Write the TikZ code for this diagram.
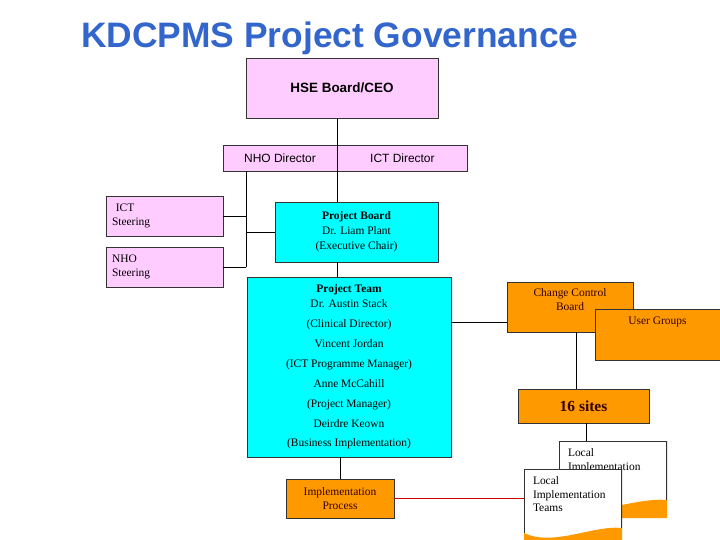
\documentclass[tikz,border=0pt]{standalone}
\usepackage{fontspec}
\setmainfont{Liberation Serif}
\setsansfont{Liberation Sans}
\usetikzlibrary{positioning,calc}
\definecolor{kdblue}{HTML}{3366CC}
\definecolor{kdpink}{HTML}{FFCCFF}
\definecolor{kdcyan}{HTML}{00FFFF}
\definecolor{kdorange}{HTML}{FF9900}
\definecolor{kdline}{HTML}{333333}
\definecolor{kdred}{HTML}{CC0000}
\definecolor{kdbrown}{HTML}{330000}

\begin{document}
\begin{tikzpicture}[x=1bp, y=-1bp,
    every node/.style={font=\fontsize{11.5}{14}\selectfont, inner sep=2bp},
    pinkbox/.style={draw=kdline, fill=kdpink, font=\sffamily\fontsize{12}{14}\selectfont},
    steerbox/.style={draw=kdline, fill=kdpink, align=left, text width=105bp, inner xsep=6bp, minimum height=40bp},
    cyanbox/.style={draw=kdline, fill=kdcyan, align=center},
    orangebox/.style={draw=kdline, fill=kdorange, text=kdbrown, align=center},
    toptext/.style={anchor=north, align=center, text=kdbrown, label distance=-5bp},
    doctext/.style={anchor=north west, align=left, inner xsep=9bp, inner ysep=8bp, font=\fontsize{11.5}{13.5}\selectfont},
    docsheet/.style={fill=white, inner sep=0pt, path picture={
        \fill[kdorange] ($(path picture bounding box.north west)+(0,64)$)
          .. controls ($(path picture bounding box.north west)!0.3!(path picture bounding box.north east)+(0,78)$)
          and ($(path picture bounding box.north west)!0.7!(path picture bounding box.north east)+(0,56)$)
          .. ($(path picture bounding box.north east)+(0,59)$)
          -- (path picture bounding box.south east) -- (path picture bounding box.south west) -- cycle;
        \draw[kdline, line width=1.6pt] ($(path picture bounding box.north west)+(0,64)$)
          -- (path picture bounding box.north west) -- (path picture bounding box.north east)
          -- ($(path picture bounding box.north east)+(0,59)$);
      }}]
  \useasboundingbox (0,0) rectangle (720,540);

  % title
  \node[anchor=base west, inner sep=0pt, text=kdblue, font=\sffamily\bfseries\fontsize{35.5}{40}\selectfont] (title) at (81,48) {KDCPMS Project Governance};

  % board level
  \node[pinkbox, font=\sffamily\bfseries\fontsize{13.5}{16}\selectfont, minimum width=192bp, minimum height=60bp] (hse) at (342,88) {HSE Board/CEO};
  \node[pinkbox, minimum width=114bp, minimum height=26bp] (nhodir) at (280,158) {NHO Director};
  \node[pinkbox, minimum width=130bp, minimum height=26bp, right=0pt of nhodir] (ictdir) {ICT Director};

  % steering groups
  \node[steerbox] (ictsteer) at (164.5,216) {\ ICT\\Steering};
  \node[steerbox] (nhosteer) at (164.5,267) {NHO\\Steering};

  % project
  \node[cyanbox, minimum width=163bp, minimum height=60bp, font=\fontsize{11.5}{15}\selectfont] (board) at (356.5,232)
    {\textbf{Project Board}\\Dr. Liam Plant\\(Executive Chair)};
  \node[cyanbox, minimum width=204bp, minimum height=180bp, font=\fontsize{11.5}{20}\selectfont] (team) at (349,367)
    {\textbf{Project Team}\\[-5bp]Dr. Austin Stack\\(Clinical Director)\\Vincent Jordan\\(ICT Programme Manager)\\Anne McCahill\\(Project Manager)\\Deirdre Keown\\(Business Implementation)};
  \node[orangebox, minimum width=108bp, minimum height=39bp] (impl) at (340,498.5) {Implementation\\Process};

  % right side
  \node[orangebox, minimum width=126bp, minimum height=50bp, label={[toptext]north:{Change Control\\Board}}] (ccb) at (570,307) {};
  \node[orangebox, minimum width=125bp, minimum height=51bp, label={[toptext, label distance=-6bp]north:{User Groups}}] (users) at (657.5,334.5) {};
  \node[orangebox, minimum width=131bp, minimum height=34bp, font=\bfseries\fontsize{15.5}{18}\selectfont] (sites) at (583.5,406) {16 sites};

  % local teams
  \node[docsheet, minimum width=108bp, minimum height=77bp, label={[doctext]north west:{Local\\Implementation}}] (litback) at (613,479.5) {};
  \node[docsheet, minimum width=98bp, minimum height=77bp, label={[doctext]north west:{Local\\Implementation\\Teams}}] (litfront) at (573,507.5) {};

  % connectors
  \draw (hse.south -| nhodir.east) -- (board.north -| nhodir.east);
  \draw (nhodir.south -| hse.west) -- (nhosteer.east -| hse.west);
  \draw (ictsteer.east) -- (ictsteer.east -| hse.west);
  \draw (nhosteer.east) -- (nhosteer.east -| hse.west);
  \draw (board.west) -- (board.west -| hse.west);
  \draw (board.south -| nhodir.east) -- (team.north -| nhodir.east);
  \draw ([yshift=-15bp]ccb.west) -- ([yshift=-15bp]ccb.west -| team.east);
  \draw (impl.north |- team.south) -- (impl.north);
  \draw ([xshift=6bp]ccb.south) -- ([xshift=6bp]ccb.south |- sites.north);
  \draw ([xshift=3bp]sites.south) -- ([xshift=3bp]sites.south |- litback.north);
  \draw[kdred] (impl.east) -- (impl.east -| litfront.west);
\end{tikzpicture}
\end{document}
